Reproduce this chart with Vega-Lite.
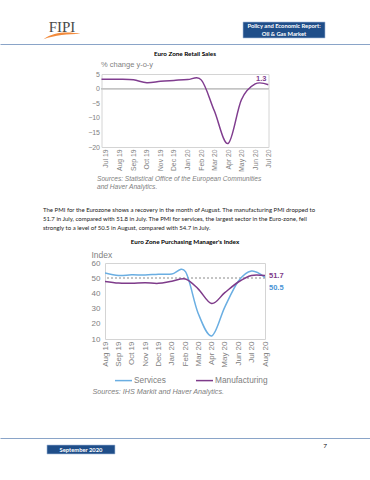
{
  "$schema": "https://vega.github.io/schema/vega-lite/v6.json",
  "background": "white",
  "padding": {"left": 0, "top": 16, "right": 0, "bottom": 0},
  "bounds": "flush",
  "center": true,
  "spacing": 30,
  "config": {
    "font": "Liberation Sans",
    "view": {"stroke": "#d4d4d4"},
    "axis": {"labelFont": "Liberation Sans", "titleFont": "Liberation Sans"},
    "legend": {"labelFont": "Liberation Sans"}
  },
  "vconcat": [
    {
      "width": 370,
      "height": 28,
      "view": {"stroke": null},
      "data": {"values": [
        {"item": "logo", "label": "FIPI"},
        {"item": "report", "label": "Policy and Economic Report:\nOil & Gas Market"}
      ]},
      "encoding": {
        "x": {"field": "item", "type": "nominal",
          "scale": {"type": "point", "domain": ["logo", "report"], "padding": 0.3333, "align": 0.419},
          "axis": {"orient": "bottom", "domain": true, "domainColor": "#8aa4c8", "domainWidth": 1.2, "ticks": false, "labels": false, "grid": false, "title": null}}
      },
      "layer": [
        {"transform": [{"filter": {"field": "item", "equal": "report"}}],
         "mark": {"type": "point", "shape": "M-1,-0.195H1V0.195H-1Z", "size": 6724, "filled": true, "fill": "#1f4e89", "stroke": "#a9bddc", "strokeWidth": 0.6, "opacity": 1}},
        {"transform": [{"filter": {"field": "item", "equal": "logo"}}],
         "mark": {"type": "point", "shape": "M-1,0.5C-0.45,0.1 0.35,0.08 1,0.22C0.35,0.22 -0.4,0.28 -1,0.5Z", "size": 1369, "filled": true, "fill": "#f28a3b", "opacity": 1}},
        {"transform": [{"filter": {"field": "item", "equal": "logo"}}],
         "mark": {"type": "text", "font": "Liberation Serif", "fontSize": 15, "color": "#4a4a4a", "baseline": "middle", "dy": -3, "letterSpacing": 0.5},
         "encoding": {"text": {"field": "label"}}},
        {"transform": [{"filter": {"field": "item", "equal": "report"}}],
         "mark": {"type": "text", "font": "Lato", "fontSize": 5.8, "fontWeight": "bold", "color": "white", "baseline": "middle", "dy": -4.2, "lineBreak": "\n", "lineHeight": 8.3},
         "encoding": {"text": {"field": "label"}}}
      ]
    },
    {
      "width": 167,
      "height": 73,
      "title": {"text": "Euro Zone Retail Sales", "font": "Lato", "fontSize": 6.3, "fontWeight": "bold", "color": "#000000", "anchor": "middle", "frame": "group", "offset": 3},
      "data": {"values": [
        {"month": "2019-06-01T00:00", "value": 3.2},
        {"month": "2019-07-01T00:00", "value": 3.2},
        {"month": "2019-08-01T00:00", "value": 3.2},
        {"month": "2019-09-01T00:00", "value": 3.0},
        {"month": "2019-10-01T00:00", "value": 2.0},
        {"month": "2019-11-01T00:00", "value": 2.5},
        {"month": "2019-12-01T00:00", "value": 2.8},
        {"month": "2020-01-01T00:00", "value": 3.1},
        {"month": "2020-02-01T00:00", "value": 2.9},
        {"month": "2020-03-01T00:00", "value": -7.6},
        {"month": "2020-04-01T00:00", "value": -18.8},
        {"month": "2020-05-01T00:00", "value": -3.8},
        {"month": "2020-06-01T00:00", "value": 1.6},
        {"month": "2020-07-01T00:00", "value": 1.3}
      ]},
      "layer": [
        {
          "mark": {"type": "rule", "color": "#c4c4c4", "strokeWidth": 1},
          "encoding": {"y": {"datum": 0, "type": "quantitative", "scale": {"domain": [-20, 5], "nice": false, "zero": false}}}
        },
        {
          "mark": {"type": "line", "color": "#803d8f", "strokeWidth": 1.5, "interpolate": "cardinal", "clip": true},
          "encoding": {
            "x": {"field": "month", "type": "temporal",
              "scale": {"domain": [{"year": 2019, "month": 6, "date": 21}, {"year": 2020, "month": 7, "date": 1}]},
              "axis": {"tickCount": {"interval": "month", "step": 1}, "format": "%b %y", "labelAngle": -90, "labelFontSize": 6.8, "labelColor": "#808080", "labelPadding": 2, "labelOverlap": false, "labelFlush": false, "labelBound": false, "ticks": false, "domain": false, "grid": false,
                "title": ["Sources: Statistical Office of the European Communities", "and Haver Analytics."],
                "titleFontSize": 6.6, "titleFontStyle": "italic", "titleFontWeight": "normal", "titleColor": "#808080", "titleAlign": "left", "titleAnchor": "start", "titleBaseline": "top", "titleX": -5, "titleY": 28.5, "titleLineHeight": 8}},
            "y": {"field": "value", "type": "quantitative",
              "scale": {"domain": [-20, 5], "nice": false, "zero": false},
              "axis": {"tickCount": 5, "labelFontSize": 7, "labelColor": "#808080", "labelPadding": 2, "labelOverlap": false, "labelFlush": false, "ticks": false, "domain": false, "grid": false,
                "title": "% change y-o-y", "titleAngle": 0, "titleAlign": "left", "titleBaseline": "middle", "titleX": -1, "titleY": -10, "titleFontSize": 7.5, "titleFontWeight": "normal", "titleColor": "#7f7f7f"}}
          }
        },
        {
          "transform": [{"filter": {"field": "month", "timeUnit": "yearmonth", "equal": {"year": 2020, "month": 7}}}],
          "mark": {"type": "text", "align": "right", "baseline": "middle", "dx": -2, "dy": -6, "fontSize": 7.5, "fontWeight": "bold", "color": "#803d8f"},
          "encoding": {
            "x": {"field": "month", "type": "temporal"},
            "y": {"field": "value", "type": "quantitative"},
            "text": {"field": "value", "type": "quantitative", "format": ".1f"}
          }
        }
      ]
    },
    {
      "width": 370,
      "height": 56,
      "view": {"stroke": null},
      "data": {"values": [
        {"line": 1, "text": "The PMI for the Eurozone shows a recovery in the month of August. The manufacturing PMI dropped to"},
        {"line": 2, "text": "51.7 in July, compared with 51.8 in July. The PMI for services, the largest sector in the Euro-zone, fell"},
        {"line": 3, "text": "strongly to a level of 50.5 in August, compared with 54.7 in July."}
      ]},
      "mark": {"type": "text", "align": "left", "baseline": "middle", "font": "Lato", "fontSize": 6, "color": "#222222"},
      "encoding": {
        "y": {"field": "line", "type": "quantitative", "axis": null, "scale": {"domain": [-2.607, 3.513], "reverse": true, "nice": false, "zero": false}},
        "x": {"datum": "paragraph", "type": "nominal", "axis": null, "scale": {"type": "point", "align": 0.1162}},
        "text": {"field": "text"}
      }
    },
    {
      "width": 160,
      "height": 76,
      "title": {"text": "Euro Zone Purchasing Manager's Index", "font": "Lato", "fontSize": 6.3, "fontWeight": "bold", "color": "#000000", "anchor": "middle", "frame": "group", "offset": 5},
      "data": {"values": [
        {"month": "2019-08-01T00:00", "series": "Services", "value": 53.5},
        {"month": "2019-09-01T00:00", "series": "Services", "value": 51.8},
        {"month": "2019-10-01T00:00", "series": "Services", "value": 52.2},
        {"month": "2019-11-01T00:00", "series": "Services", "value": 52.1},
        {"month": "2019-12-01T00:00", "series": "Services", "value": 52.6},
        {"month": "2020-01-01T00:00", "series": "Services", "value": 52.7},
        {"month": "2020-02-01T00:00", "series": "Services", "value": 54.3},
        {"month": "2020-03-01T00:00", "series": "Services", "value": 27.0},
        {"month": "2020-04-01T00:00", "series": "Services", "value": 12.0},
        {"month": "2020-05-01T00:00", "series": "Services", "value": 31.0},
        {"month": "2020-06-01T00:00", "series": "Services", "value": 48.0},
        {"month": "2020-07-01T00:00", "series": "Services", "value": 54.7},
        {"month": "2020-08-01T00:00", "series": "Services", "value": 50.5},
        {"month": "2019-08-01T00:00", "series": "Manufacturing", "value": 47.9},
        {"month": "2019-09-01T00:00", "series": "Manufacturing", "value": 46.8},
        {"month": "2019-10-01T00:00", "series": "Manufacturing", "value": 46.7},
        {"month": "2019-11-01T00:00", "series": "Manufacturing", "value": 47.0},
        {"month": "2019-12-01T00:00", "series": "Manufacturing", "value": 46.6},
        {"month": "2020-01-01T00:00", "series": "Manufacturing", "value": 48.0},
        {"month": "2020-02-01T00:00", "series": "Manufacturing", "value": 49.5},
        {"month": "2020-03-01T00:00", "series": "Manufacturing", "value": 43.0},
        {"month": "2020-04-01T00:00", "series": "Manufacturing", "value": 33.3},
        {"month": "2020-05-01T00:00", "series": "Manufacturing", "value": 40.5},
        {"month": "2020-06-01T00:00", "series": "Manufacturing", "value": 47.5},
        {"month": "2020-07-01T00:00", "series": "Manufacturing", "value": 51.8},
        {"month": "2020-08-01T00:00", "series": "Manufacturing", "value": 51.7}
      ]},
      "layer": [
        {
          "mark": {"type": "rule", "color": "#c4c4c4", "strokeWidth": 1, "strokeDash": [2, 2]},
          "encoding": {"y": {"datum": 50, "type": "quantitative", "scale": {"domain": [10, 60], "nice": false, "zero": false}}}
        },
        {
          "mark": {"type": "line", "strokeWidth": 1.5, "interpolate": "cardinal", "clip": true},
          "encoding": {
            "x": {"field": "month", "type": "temporal",
              "scale": {"domain": [{"year": 2019, "month": 8, "date": 1}, {"year": 2020, "month": 8, "date": 1}]},
              "axis": {"tickCount": {"interval": "month", "step": 1}, "format": "%b %y", "labelAngle": -90, "labelFontSize": 8, "labelColor": "#808080", "labelPadding": 2, "labelOverlap": false, "labelFlush": false, "labelBound": false, "ticks": false, "domain": false, "grid": false,
                "title": "Sources: IHS Markit and Haver Analytics.",
                "titleFontSize": 7.2, "titleFontStyle": "italic", "titleFontWeight": "normal", "titleColor": "#808080", "titleAlign": "left", "titleAnchor": "start", "titleBaseline": "middle", "titleX": -13, "titleY": 52}},
            "y": {"field": "value", "type": "quantitative",
              "scale": {"domain": [10, 60], "nice": false, "zero": false},
              "axis": {"tickCount": 5, "labelFontSize": 8, "labelColor": "#808080", "labelPadding": 5, "labelOverlap": false, "labelFlush": false, "ticks": false, "domain": false, "grid": false,
                "title": "Index", "titleAngle": 0, "titleAlign": "left", "titleBaseline": "middle", "titleX": -14, "titleY": -9, "titleFontSize": 8.5, "titleFontWeight": "normal", "titleColor": "#7f7f7f"}},
            "color": {"field": "series", "type": "nominal",
              "scale": {"domain": ["Services", "Manufacturing"], "range": ["#6aaee2", "#7e3b8a"]},
              "legend": {"orient": "none", "legendX": 114, "legendY": 355, "direction": "horizontal", "title": null, "symbolType": "stroke", "symbolSize": 289, "symbolStrokeWidth": 1.5, "labelFontSize": 8.3, "labelColor": "#808080", "labelOffset": 1, "columnPadding": 27}}
          }
        },
        {
          "transform": [
            {"filter": {"field": "series", "equal": "Manufacturing"}},
            {"filter": {"field": "month", "timeUnit": "yearmonth", "equal": {"year": 2020, "month": 8}}}
          ],
          "mark": {"type": "text", "align": "left", "baseline": "middle", "dx": 4, "fontSize": 7.5, "fontWeight": "bold", "color": "#7e3b8a"},
          "encoding": {
            "x": {"field": "month", "type": "temporal"},
            "y": {"field": "value", "type": "quantitative"},
            "text": {"field": "value", "type": "quantitative", "format": ".1f"}
          }
        },
        {
          "transform": [
            {"filter": {"field": "series", "equal": "Services"}},
            {"filter": {"field": "month", "timeUnit": "yearmonth", "equal": {"year": 2020, "month": 8}}}
          ],
          "mark": {"type": "text", "align": "left", "baseline": "middle", "dx": 4, "dy": 10.5, "fontSize": 7.5, "fontWeight": "bold", "color": "#4a94d6"},
          "encoding": {
            "x": {"field": "month", "type": "temporal"},
            "y": {"field": "value", "type": "quantitative"},
            "text": {"field": "value", "type": "quantitative", "format": ".1f"}
          }
        }
      ]
    },
    {"width": 370, "height": 39, "view": {"stroke": null}, "data": {"values": [{"s": 0}]}, "mark": {"type": "point", "opacity": 0}, "encoding": {}},
    {
      "width": 370,
      "height": 23,
      "view": {"stroke": null},
      "data": {"values": [
        {"item": "date", "label": "September 2020"},
        {"item": "page", "label": "7"}
      ]},
      "encoding": {
        "x": {"field": "item", "type": "nominal",
          "scale": {"type": "point", "domain": ["date", "page"], "padding": 0.258, "align": 0.643},
          "axis": {"orient": "top", "domain": true, "domainColor": "#8aa4c8", "domainWidth": 1.2, "ticks": false, "labels": false, "grid": false, "title": null}}
      },
      "layer": [
        {"transform": [{"filter": {"field": "item", "equal": "date"}}],
         "mark": {"type": "point", "shape": "M-1,-0.132H1V0.132H-1Z", "size": 4624, "filled": true, "fill": "#1f4e89", "stroke": "#a9bddc", "strokeWidth": 0.6, "opacity": 1}},
        {"transform": [{"filter": {"field": "item", "equal": "date"}}],
         "mark": {"type": "text", "font": "Lato", "fontSize": 5.8, "fontWeight": "bold", "color": "white", "baseline": "middle"},
         "encoding": {"text": {"field": "label"}}},
        {"transform": [{"filter": {"field": "item", "equal": "page"}}],
         "mark": {"type": "text", "font": "Lato", "fontSize": 6.5, "color": "#111111", "baseline": "middle", "dy": -4},
         "encoding": {"text": {"field": "label"}}}
      ]
    }
  ]
}
